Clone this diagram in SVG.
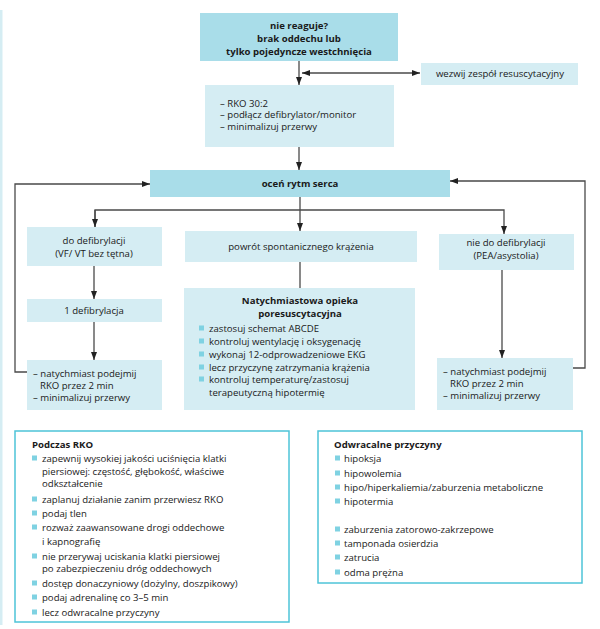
<svg xmlns="http://www.w3.org/2000/svg" width="600" height="629" viewBox="0 0 600 629">
<defs>
<style>
text{font-family:"Open Sans","Liberation Sans",Arial,sans-serif;font-size:9.6px;fill:#1a1a1a}
.b{font-weight:bold}
.c{text-anchor:middle}
.dark{fill:#a9dde9}
.light{fill:#d5edf3}
.frame{fill:#ffffff;stroke:#4ec4d8;stroke-width:1.5}
.bul{fill:#7fd2e2}
.ln{fill:none;stroke:#4a4a4a;stroke-width:1.3}
</style>
<marker id="ah" viewBox="0 0 8 6" refX="8" refY="3" markerWidth="8" markerHeight="6" markerUnits="userSpaceOnUse" orient="auto-start-reverse"><path d="M0,0 L8,3 L0,6 z" fill="#222"/></marker>
</defs>
<rect x="0" y="10" width="2.5" height="615" fill="#d5edf3"/>
<g id="connectors">
<line class="ln" x1="299" y1="61" x2="299" y2="85" marker-end="url(#ah)"/>
<line class="ln" x1="302" y1="73" x2="420" y2="73" marker-start="url(#ah)" marker-end="url(#ah)"/>
<line class="ln" x1="299" y1="147" x2="299" y2="170" marker-end="url(#ah)"/>
<path class="ln" d="M300,197 V231" marker-end="url(#ah)"/>
<path class="ln" d="M95,227 V210 H504 V234" marker-end="url(#ah)"/>
<path class="ln" d="M95,210 V227" marker-end="url(#ah)"/>
<line class="ln" x1="94" y1="266" x2="94" y2="299" marker-end="url(#ah)"/>
<line class="ln" x1="94" y1="322" x2="94" y2="360" marker-end="url(#ah)"/>
<line class="ln" x1="300" y1="262" x2="300" y2="288"/>
<line class="ln" x1="502" y1="270" x2="502" y2="358" marker-end="url(#ah)"/>
<path class="ln" d="M27,372 H15 V184 H150" marker-end="url(#ah)"/>
<path class="ln" d="M573,368 H585 V181 H450" marker-end="url(#ah)"/>
</g>
<g id="n-start">
<rect class="dark" x="200" y="13" width="198" height="48"/>
<text class="b c" x="299" y="28.5">nie reaguje?</text>
<text class="b c" x="299" y="41.5">brak oddechu lub</text>
<text class="b c" x="299" y="54.5">tylko pojedyncze westchnięcia</text>
</g>
<g id="n-call">
<rect class="light" x="421" y="63" width="157" height="22"/>
<text class="c" x="500" y="77">wezwij zespół resuscytacyjny</text>
</g>
<g id="n-rko">
<rect class="light" x="205" y="85" width="189" height="62"/>
<text x="220" y="106.5">– RKO 30:2</text>
<text x="220" y="118">– podłącz defibrylator/monitor</text>
<text x="220" y="129.5">– minimalizuj przerwy</text>
</g>
<g id="n-rhythm">
<rect class="dark" x="150" y="170" width="300" height="27"/>
<text class="b c" x="300" y="187">oceń rytm serca</text>
</g>
<g id="n-shockable">
<rect class="light" x="27" y="227" width="135" height="39"/>
<text class="c" x="94" y="243.5">do defibrylacji</text>
<text class="c" x="94" y="256.5">(VF/ VT bez tętna)</text>
</g>
<g id="n-rosc">
<rect class="light" x="185" y="231" width="232" height="31"/>
<text class="c" x="301" y="250">powrót spontanicznego krążenia</text>
</g>
<g id="n-nonshockable">
<rect class="light" x="439" y="234" width="135" height="36"/>
<text class="c" x="506" y="245.5">nie do defibrylacji</text>
<text class="c" x="506" y="258.5">(PEA/asystolia)</text>
</g>
<g id="n-shock">
<rect class="light" x="27" y="299" width="135" height="23"/>
<text class="c" x="94" y="314">1 defibrylacja</text>
</g>
<g id="n-cpr-left">
<rect class="light" x="27" y="360" width="135" height="50"/>
<text x="33" y="376.5">– natychmiast podejmij</text>
<text x="40" y="388.5">RKO przez 2 min</text>
<text x="33" y="400.5">– minimalizuj przerwy</text>
</g>
<g id="n-post">
<rect class="light" x="184" y="288" width="231" height="122"/>
<text class="b c" x="300" y="303.5">Natychmiastowa opieka</text>
<text class="b c" x="300" y="316.5">poresuscytacyjna</text>
<rect class="bul" x="199" y="325.5" width="5" height="5"/><text x="209" y="331.5">zastosuj schemat ABCDE</text>
<rect class="bul" x="199" y="338.5" width="5" height="5"/><text x="209" y="344.5">kontroluj wentylację i oksygenację</text>
<rect class="bul" x="199" y="351.5" width="5" height="5"/><text x="209" y="357.5">wykonaj 12-odprowadzeniowe EKG</text>
<rect class="bul" x="199" y="364.5" width="5" height="5"/><text x="209" y="370.5">lecz przyczynę zatrzymania krążenia</text>
<rect class="bul" x="199" y="376.5" width="5" height="5"/><text x="209" y="382.5">kontroluj temperaturę/zastosuj</text>
<text x="209" y="395.5">terapeutyczną hipotermię</text>
</g>
<g id="n-cpr-right">
<rect class="light" x="437" y="358" width="136" height="52"/>
<text x="443" y="374.5">– natychmiast podejmij</text>
<text x="450" y="386.5">RKO przez 2 min</text>
<text x="443" y="398.5">– minimalizuj przerwy</text>
</g>
<g id="n-during">
<rect class="frame" x="15" y="431" width="274" height="191"/>
<text class="b" x="32" y="448">Podczas RKO</text>
<rect class="bul" x="32" y="455.5" width="5" height="5"/><text x="42" y="461.5">zapewnij wysokiej jakości uciśnięcia klatki</text>
<text x="42" y="475">piersiowej: częstość, głębokość, właściwe</text>
<text x="42" y="487">odkształcenie</text>
<rect class="bul" x="32" y="496.5" width="5" height="5"/><text x="42" y="502.5">zaplanuj działanie zanim przerwiesz RKO</text>
<rect class="bul" x="32" y="510.5" width="5" height="5"/><text x="42" y="516.5">podaj tlen</text>
<rect class="bul" x="32" y="524.5" width="5" height="5"/><text x="42" y="530.5">rozważ zaawansowane drogi oddechowe</text>
<text x="42" y="544.5">i kapnografię</text>
<rect class="bul" x="32" y="553.5" width="5" height="5"/><text x="42" y="559.5">nie przerywaj uciskania klatki piersiowej</text>
<text x="42" y="571.5">po zabezpieczeniu dróg oddechowych</text>
<rect class="bul" x="32" y="580.5" width="5" height="5"/><text x="42" y="586.5">dostęp donaczyniowy (dożylny, doszpikowy)</text>
<rect class="bul" x="32" y="594.5" width="5" height="5"/><text x="42" y="600.5">podaj adrenalinę co 3–5 min</text>
<rect class="bul" x="32" y="609.5" width="5" height="5"/><text x="42" y="615.5">lecz odwracalne przyczyny</text>
</g>
<g id="n-reversible">
<rect class="frame" x="318" y="431" width="264" height="152"/>
<text class="b" x="334" y="447.5">Odwracalne przyczyny</text>
<rect class="bul" x="335" y="455.5" width="5" height="5"/><text x="344" y="461.5">hipoksja</text>
<rect class="bul" x="335" y="470.5" width="5" height="5"/><text x="344" y="476.5">hipowolemia</text>
<rect class="bul" x="335" y="484.5" width="5" height="5"/><text x="344" y="490.5">hipo/hiperkaliemia/zaburzenia metaboliczne</text>
<rect class="bul" x="335" y="498.5" width="5" height="5"/><text x="344" y="504.5">hipotermia</text>
<rect class="bul" x="335" y="526.5" width="5" height="5"/><text x="344" y="532.5">zaburzenia zatorowo-zakrzepowe</text>
<rect class="bul" x="335" y="540.5" width="5" height="5"/><text x="344" y="546.5">tamponada osierdzia</text>
<rect class="bul" x="335" y="554.5" width="5" height="5"/><text x="344" y="560.5">zatrucia</text>
<rect class="bul" x="335" y="569.5" width="5" height="5"/><text x="344" y="575.5">odma prężna</text>
</g>
</svg>
